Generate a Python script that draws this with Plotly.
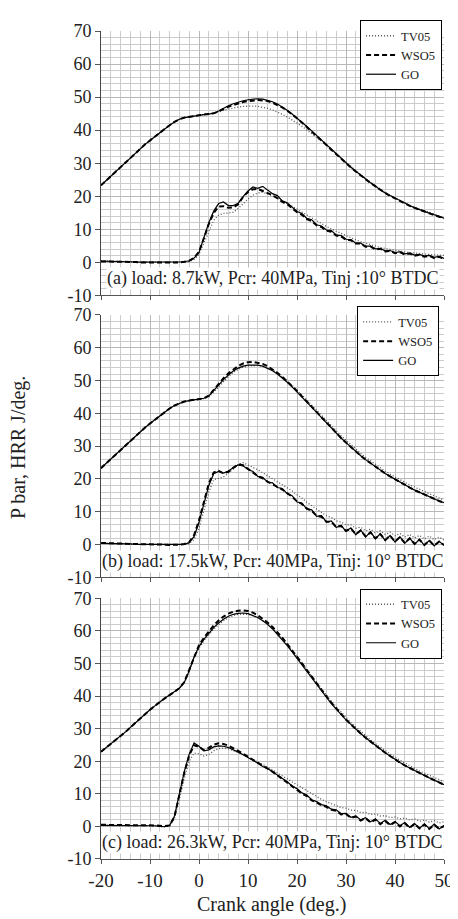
import plotly.graph_objects as go

# ---------------- data ----------------
crank_angle = list(range(-20, 51))  # deg, step 1

# Panel (a) load 8.7 kW
p_go_a = [23.3, 24.7, 26.1, 27.5, 28.9, 30.3, 31.7, 33.1, 34.4, 35.7, 36.9, 38.1, 39.3, 40.4, 41.5, 42.5, 43.3, 43.8, 44.1, 44.3,
          44.5, 44.7, 44.9, 45.1, 45.8, 46.7, 47.4, 48.0, 48.5, 48.9,
          49.2, 49.4, 49.5, 49.4, 49.1, 48.6, 47.9, 47.0, 46.0, 44.9,
          43.7, 42.4, 41.1, 39.8, 38.4, 37.0, 35.6, 34.2, 32.8, 31.4,
          30.1, 28.8, 27.6, 26.4, 25.2, 24.1, 23.1, 21.9, 21.0, 20.2,
          19.4, 18.6, 17.9, 17.2, 16.5, 15.9, 15.4, 14.9, 14.4, 13.9, 13.4]
p_wso5_a = [23.3, 24.7, 26.1, 27.5, 28.9, 30.3, 31.7, 33.1, 34.4, 35.7, 36.9, 38.1, 39.3, 40.4, 41.5, 42.5, 43.3, 43.8, 44.1, 44.3,
            44.5, 44.7, 44.9, 45.1, 45.7, 46.5, 47.1, 47.6, 48.1, 48.5,
            48.8, 49.0, 49.1, 49.0, 48.8, 48.3, 47.7, 46.9, 45.9, 44.8,
            43.6, 42.3, 41.0, 39.7, 38.3, 36.9, 35.5, 34.1, 32.7, 31.3,
            30.0, 28.7, 27.5, 26.3, 25.1, 24.0, 23.0, 21.9, 21.0, 20.1,
            19.3, 18.5, 17.8, 17.1, 16.5, 15.9, 15.3, 14.8, 14.3, 13.8, 13.3]
p_tv05_a = [23.3, 24.7, 26.1, 27.5, 28.9, 30.3, 31.7, 33.1, 34.4, 35.7, 36.9, 38.1, 39.3, 40.4, 41.5, 42.5, 43.3, 43.8, 44.1, 44.3,
            44.5, 44.7, 44.9, 45.1, 45.5, 46.0, 46.4, 46.8, 47.0, 47.2,
            47.3, 47.3, 47.2, 47.0, 46.6, 46.1, 45.5, 44.8, 44.0, 43.1,
            42.2, 41.2, 40.1, 39.0, 37.9, 36.7, 35.4, 34.1, 32.8, 31.5,
            30.2, 28.9, 27.7, 26.5, 25.3, 24.2, 23.2, 22.0, 21.1, 20.3,
            19.5, 18.7, 18.0, 17.3, 16.7, 16.1, 15.6, 15.1, 14.6, 14.1, 13.6]
hrr_go_a = [0.4, 0.4, 0.4, 0.3, 0.3, 0.2, 0.2, 0.1, 0.1, 0.0, 0.0, 0.0, 0.0, 0.0, 0.0, 0.0, 0.1, 0.2, 0.5, 1.3,
            3.0, 7.5, 12.0, 15.5, 17.8, 18.3, 17.2, 17.2, 17.9, 19.9,
            21.6, 22.8, 22.4, 23.0, 21.8, 20.8, 20.2, 18.6, 18.0, 16.6,
            15.4, 14.8, 13.3, 12.9, 11.4, 11.0, 9.8, 9.6, 8.3, 8.1,
            7.0, 6.9, 5.8, 5.8, 4.9, 4.9, 4.1, 4.2, 3.5, 3.6,
            3.0, 3.2, 2.6, 2.8, 2.2, 2.4, 1.9, 2.1, 1.5, 1.8, 1.2]
hrr_wso5_a = [0.3, 0.3, 0.3, 0.3, 0.2, 0.2, 0.1, 0.1, 0.0, 0.0, 0.0, -0.1, -0.1, -0.1, -0.1, 0.0, 0.0, 0.2, 0.5, 1.4,
              3.2, 7.3, 11.6, 14.9, 16.9, 17.0, 16.5, 16.6, 17.6, 19.8,
              21.3, 22.1, 22.2, 21.6, 21.0, 20.3, 19.4, 18.3, 17.6, 16.3,
              15.2, 14.4, 13.1, 12.5, 11.2, 10.7, 9.6, 9.3, 8.1, 7.9,
              6.8, 6.7, 5.7, 5.7, 4.7, 4.8, 3.9, 4.1, 3.3, 3.5,
              2.8, 3.1, 2.4, 2.7, 2.0, 2.3, 1.7, 2.0, 1.3, 1.7, 1.0]
hrr_tv05_a = [0.4, 0.4, 0.3, 0.3, 0.3, 0.2, 0.2, 0.1, 0.1, 0.0, 0.0, 0.0, 0.0, 0.0, 0.0, 0.0, 0.0, 0.1, 0.3, 0.9,
              2.4, 5.8, 9.6, 12.7, 14.3, 14.8, 14.9, 15.2, 16.3, 17.8,
              19.2, 20.3, 21.0, 21.2, 20.8, 20.2, 19.5, 18.7, 17.9, 17.0,
              16.1, 15.2, 14.3, 13.4, 12.5, 11.7, 10.9, 10.1, 9.4, 8.7,
              8.0, 7.4, 6.8, 6.3, 5.8, 5.3, 4.9, 4.5, 4.2, 3.9,
              3.6, 3.4, 3.2, 3.0, 2.8, 2.6, 2.5, 2.4, 2.3, 2.2, 2.1]

# Panel (b) load 17.5 kW
p_go_b = [23.3, 24.7, 26.1, 27.5, 28.9, 30.3, 31.7, 33.1, 34.4, 35.7, 36.9, 38.1, 39.3, 40.4, 41.5, 42.4, 43.1, 43.6, 43.9, 44.1,
          44.3, 44.6, 45.3, 47.0, 48.7, 50.3, 51.7, 52.9, 53.8, 54.4,
          54.7, 54.8, 54.7, 54.4, 53.8, 53.0, 52.0, 50.8, 49.5, 48.1,
          46.6, 45.1, 43.5, 41.9, 40.3, 38.7, 37.1, 35.5, 34.0, 32.5,
          31.1, 29.7, 28.4, 27.1, 25.9, 24.8, 23.7, 22.7, 21.7, 20.8,
          19.9, 19.0, 18.2, 17.4, 16.6, 15.9, 15.2, 14.5, 13.9, 13.3, 12.8]
p_wso5_b = [23.3, 24.7, 26.1, 27.5, 28.9, 30.3, 31.7, 33.1, 34.4, 35.7, 36.9, 38.1, 39.3, 40.4, 41.5, 42.4, 43.1, 43.6, 43.9, 44.1,
            44.3, 44.6, 45.4, 47.2, 49.0, 50.7, 52.2, 53.5, 54.5, 55.2,
            55.6, 55.7, 55.5, 55.1, 54.4, 53.5, 52.4, 51.2, 49.8, 48.3,
            46.8, 45.2, 43.6, 42.0, 40.3, 38.7, 37.1, 35.5, 34.0, 32.5,
            31.1, 29.7, 28.4, 27.1, 25.9, 24.8, 23.7, 22.7, 21.7, 20.8,
            19.9, 19.0, 18.2, 17.4, 16.6, 15.9, 15.2, 14.5, 13.9, 13.3, 12.8]
p_tv05_b = [23.3, 24.7, 26.1, 27.5, 28.9, 30.3, 31.7, 33.1, 34.4, 35.7, 36.9, 38.1, 39.3, 40.4, 41.5, 42.4, 43.1, 43.6, 43.9, 44.1,
            44.2, 44.5, 45.0, 46.4, 48.0, 49.7, 51.2, 52.5, 53.4, 54.1,
            54.4, 54.6, 54.6, 54.4, 53.9, 53.2, 52.3, 51.2, 49.9, 48.5,
            47.1, 45.6, 44.1, 42.5, 40.9, 39.3, 37.7, 36.2, 34.7, 33.2,
            31.8, 30.4, 29.1, 27.8, 26.6, 25.5, 24.4, 23.4, 22.4, 21.5,
            20.6, 19.8, 19.0, 18.2, 17.5, 16.8, 16.1, 15.4, 14.8, 14.2, 13.6]
hrr_go_b = [0.4, 0.4, 0.3, 0.3, 0.3, 0.2, 0.2, 0.1, 0.1, 0.0, 0.0, 0.0, 0.0, -0.1, -0.1, -0.1, 0.0, 0.1, 0.6, 2.5,
            6.8, 12.3, 18.0, 21.6, 22.3, 21.8, 22.4, 23.5, 24.3, 24.0,
            22.9, 22.3, 20.8, 20.5, 19.0, 18.8, 17.4, 17.1, 15.5, 14.9,
            13.0, 12.7, 10.8, 10.6, 8.6, 8.8, 6.9, 7.2, 5.2, 5.9,
            4.0, 5.1, 3.0, 4.5, 2.3, 3.9, 1.8, 3.3, 1.2, 2.8,
            0.8, 2.4, 0.4, 2.0, 0.1, 1.6, -0.2, 1.3, -0.4, 1.0, -0.2]
hrr_wso5_b = [0.5, 0.5, 0.4, 0.4, 0.3, 0.3, 0.2, 0.2, 0.1, 0.1, 0.0, 0.0, 0.0, 0.0, -0.1, -0.1, 0.0, 0.2, 0.8, 2.9,
              7.4, 13.0, 18.6, 22.0, 22.5, 21.7, 22.2, 23.4, 24.5, 24.2,
              23.0, 22.0, 20.9, 20.2, 19.2, 18.5, 17.6, 16.8, 15.7, 14.6,
              13.2, 12.4, 11.0, 10.3, 8.8, 8.5, 7.0, 7.0, 5.4, 5.7,
              4.2, 4.9, 3.2, 4.3, 2.5, 3.7, 1.9, 3.2, 1.4, 2.7,
              0.9, 2.3, 0.5, 1.9, 0.2, 1.5, -0.1, 1.2, -0.3, 0.9, -0.1]
hrr_tv05_b = [0.4, 0.4, 0.3, 0.3, 0.3, 0.2, 0.2, 0.1, 0.1, 0.0, 0.0, 0.0, 0.0, 0.0, 0.0, 0.0, 0.0, 0.0, 0.3, 1.6,
              5.0, 10.2, 16.0, 19.8, 20.3, 20.6, 21.8, 23.2, 24.4, 25.0,
              24.3, 23.6, 22.8, 21.9, 21.0, 20.2, 19.3, 18.4, 17.5, 16.4,
              15.2, 14.2, 12.9, 11.9, 10.7, 9.9, 8.8, 8.3, 7.3, 6.9,
              6.0, 6.0, 5.0, 5.3, 4.2, 4.7, 3.6, 4.2, 3.1, 3.8,
              2.7, 3.4, 2.3, 3.1, 2.0, 2.8, 1.7, 2.6, 1.5, 2.3, 1.4]

# Panel (c) load 26.3 kW
p_go_c = [22.9, 24.1, 25.3, 26.5, 27.7, 29.0, 30.4, 31.8, 33.1, 34.5, 35.8, 37.0, 38.2, 39.3, 40.3, 41.3, 42.4, 44.2, 47.8, 52.0,
          55.2, 57.4, 59.3, 61.0, 62.4, 63.6, 64.5, 65.1, 65.4, 65.5,
          65.3, 64.8, 64.1, 63.1, 62.0, 60.6, 59.0, 57.3, 55.5, 53.6,
          51.6, 49.6, 47.6, 45.5, 43.5, 41.5, 39.6, 37.7, 36.0, 34.3,
          32.7, 31.3, 29.8, 28.5, 27.2, 26.0, 24.8, 23.7, 22.6, 21.6,
          20.5, 19.6, 18.7, 17.9, 17.1, 16.3, 15.6, 14.9, 14.2, 13.5, 12.8]
p_wso5_c = [22.9, 24.1, 25.3, 26.5, 27.7, 29.0, 30.4, 31.8, 33.1, 34.5, 35.8, 37.0, 38.2, 39.3, 40.3, 41.3, 42.4, 44.3, 48.0, 52.3,
            55.6, 57.9, 59.9, 61.7, 63.2, 64.4, 65.3, 65.9, 66.2, 66.3,
            66.1, 65.6, 64.8, 63.8, 62.6, 61.2, 59.6, 57.9, 56.0, 54.1,
            52.1, 50.1, 48.0, 45.9, 43.9, 41.9, 39.9, 38.0, 36.2, 34.4,
            32.8, 31.3, 29.8, 28.5, 27.2, 26.0, 24.8, 23.7, 22.6, 21.6,
            20.5, 19.6, 18.7, 17.9, 17.1, 16.3, 15.6, 14.9, 14.2, 13.5, 12.8]
p_tv05_c = [22.9, 24.1, 25.3, 26.5, 27.7, 29.0, 30.4, 31.8, 33.1, 34.5, 35.8, 37.0, 38.2, 39.3, 40.3, 41.3, 42.4, 44.1, 47.5, 51.6,
            54.8, 57.0, 58.8, 60.5, 61.9, 63.1, 64.0, 64.7, 65.1, 65.2,
            65.1, 64.7, 64.1, 63.2, 62.1, 60.8, 59.3, 57.7, 55.9, 54.1,
            52.2, 50.2, 48.2, 46.2, 44.2, 42.2, 40.3, 38.4, 36.7, 35.0,
            33.4, 31.9, 30.5, 29.1, 27.8, 26.6, 25.4, 24.3, 23.2, 22.2,
            21.2, 20.3, 19.4, 18.6, 17.8, 17.0, 16.3, 15.6, 14.9, 14.3, 13.7]
hrr_go_c = [0.3, 0.3, 0.3, 0.3, 0.3, 0.3, 0.3, 0.3, 0.3, 0.3, 0.2, 0.2, 0.0, -0.1, 0.3, 3.2, 10.0, 16.8, 22.2, 25.6,
            24.6, 23.2, 23.5, 24.4, 24.7, 24.6, 24.2, 23.6, 22.8, 22.0,
            21.2, 20.2, 19.4, 18.4, 17.8, 16.8, 15.8, 14.6, 13.7, 12.4,
            11.6, 10.3, 9.6, 8.2, 7.6, 6.7, 6.3, 5.3, 5.1, 3.9,
            4.0, 2.8, 3.2, 2.0, 2.7, 1.4, 2.3, 0.9, 1.9, 0.6,
            1.5, 0.2, 1.2, -0.3, 0.9, -0.6, 0.8, -0.7, 0.7, -0.8, 0.3]
hrr_wso5_c = [0.5, 0.5, 0.5, 0.5, 0.5, 0.5, 0.5, 0.5, 0.5, 0.4, 0.4, 0.3, 0.2, 0.1, 0.3, 3.0, 9.8, 16.5, 21.8, 24.9,
              24.4, 23.4, 24.1, 25.1, 25.5, 25.3, 24.8, 24.1, 23.2, 22.3,
              21.4, 20.4, 19.5, 18.5, 17.8, 16.8, 15.7, 14.6, 13.5, 12.3,
              11.4, 10.1, 9.3, 8.0, 7.3, 6.5, 6.0, 5.1, 4.8, 3.7,
              3.8, 2.6, 3.0, 1.8, 2.5, 1.2, 2.1, 0.7, 1.7, 0.4,
              1.3, 0.0, 1.0, -0.4, 0.8, -0.6, 0.6, -0.8, 0.5, -0.7, 0.1]
hrr_tv05_c = [0.3, 0.3, 0.3, 0.3, 0.3, 0.3, 0.3, 0.3, 0.3, 0.3, 0.2, 0.2, 0.0, -0.1, 0.1, 2.4, 8.5, 14.8, 20.0, 22.5,
              22.3, 21.6, 22.0, 23.2, 23.9, 24.0, 23.8, 23.3, 22.7, 22.0,
              21.3, 20.6, 19.8, 19.0, 18.2, 17.3, 16.4, 15.4, 14.5, 13.6,
              12.6, 11.7, 10.8, 9.9, 9.0, 8.3, 7.6, 6.9, 6.4, 5.8,
              5.6, 5.0, 4.9, 4.3, 4.3, 3.7, 3.8, 3.2, 3.3, 2.7,
              2.9, 2.3, 2.6, 2.0, 2.3, 1.6, 2.0, 1.3, 1.8, 1.1, 1.4]

series_names = ["TV05", "WSO5", "GO"]
panel_labels = ["(a) load: 8.7kW, Pcr: 40MPa, Tinj :10\u00b0 BTDC",
                "(b) load: 17.5kW, Pcr: 40MPa, Tinj: 10\u00b0 BTDC",
                "(c) load: 26.3kW, Pcr: 40MPa, Tinj: 10\u00b0 BTDC"]
x_ticks = [-20, -10, 0, 10, 20, 30, 40, 50]
y_ticks = [-10, 0, 10, 20, 30, 40, 50, 60, 70]

panels = [
    {"p": [p_tv05_a, p_wso5_a, p_go_a], "h": [hrr_tv05_a, hrr_wso5_a, hrr_go_a]},
    {"p": [p_tv05_b, p_wso5_b, p_go_b], "h": [hrr_tv05_b, hrr_wso5_b, hrr_go_b]},
    {"p": [p_tv05_c, p_wso5_c, p_go_c], "h": [hrr_tv05_c, hrr_wso5_c, hrr_go_c]},
]

# ---------------- styling ----------------
FONT = "Liberation Serif, Times New Roman, serif"
styles = {
    "TV05": dict(color="#555555", width=1.3, dash="1px,2px"),
    "WSO5": dict(color="#000000", width=2.0, dash="5px,3px"),
    "GO": dict(color="#000000", width=1.2, dash="solid"),
}

fig = go.Figure()
W, H = 458, 919
ml, mr, mt, mb = 93, 13, 15, 68
plot_h = H - mt - mb
panel_px = [(15, 282), (301.7, 566.7), (587.8, 851)]
# legend anchor: right edge x, nominal top y (pixels; box renders ~13 px lower)
legend_px = [(443, 4), (440, 293), (443, 578)]

def py2paper(py):
    return (H - mb - py) / plot_h

def px2paper(px):
    return (px - ml) / (W - ml - mr)

for i, pan in enumerate(panels):
    xa = "x" if i == 0 else f"x{i+1}"
    ya = "y" if i == 0 else f"y{i+1}"
    lg = "legend" if i == 0 else f"legend{i+1}"
    for name, yv in zip(series_names, pan["p"]):
        fig.add_trace(go.Scatter(x=crank_angle, y=yv, name=name, mode="lines",
                                 line=styles[name], xaxis=xa, yaxis=ya,
                                 legend=lg, showlegend=True))
    for name, yv in zip(series_names, pan["h"]):
        fig.add_trace(go.Scatter(x=crank_angle, y=yv, name=name, mode="lines",
                                 line=styles[name], xaxis=xa, yaxis=ya,
                                 legend=lg, showlegend=False))

layout = dict(
    width=W, height=H,
    margin=dict(l=ml, r=mr, t=mt, b=mb),
    paper_bgcolor="white", plot_bgcolor="white",
    font=dict(family=FONT, color="#222222"),
)

for i in range(3):
    xk = "xaxis" if i == 0 else f"xaxis{i+1}"
    yk = "yaxis" if i == 0 else f"yaxis{i+1}"
    top, bot = panel_px[i]
    layout[xk] = dict(
        range=[-20, 50], domain=[0, 1], anchor="y" if i == 0 else f"y{i+1}",
        tickvals=x_ticks, ticktext=[str(v) for v in x_ticks],
        showticklabels=(i == 2), ticks="outside", ticklen=4, tickcolor="#555",
        showline=True, linecolor="#555", linewidth=1,
        showgrid=True, gridcolor="#b8b8b8", gridwidth=1,
        minor=dict(dtick=2, tick0=0, showgrid=True, gridcolor="#cccccc", gridwidth=1, ticks=""),
        zeroline=False, tickfont=dict(family=FONT, size=19, color="#222"),
        fixedrange=True,
    )
    layout[yk] = dict(
        range=[-10, 70], domain=[py2paper(bot), py2paper(top)],
        anchor="x" if i == 0 else f"x{i+1}",
        tickvals=y_ticks, ticktext=[str(v) for v in y_ticks],
        ticks="outside", ticklen=5, tickcolor="#555",
        showline=True, linecolor="#444", linewidth=1,
        showgrid=True, gridcolor="#b8b8b8", gridwidth=1,
        minor=dict(dtick=2, tick0=0, showgrid=True, gridcolor="#cccccc", gridwidth=1, ticks=""),
        zeroline=False, tickfont=dict(family=FONT, size=18, color="#222"),
        fixedrange=True,
    )
    lk = "legend" if i == 0 else f"legend{i+1}"
    lx, ly = legend_px[i]
    layout[lk] = dict(
        x=px2paper(lx), y=py2paper(ly), xanchor="right", yanchor="top",
        xref="paper", yref="paper",
        bgcolor="white", bordercolor="#000", borderwidth=1,
        font=dict(family=FONT, size=12.5, color="#222"),
        itemwidth=30, tracegroupgap=0, traceorder="normal",
    )

annotations = []
for i, label in enumerate(panel_labels):
    xr = "x" if i == 0 else f"x{i+1}"
    yr = "y" if i == 0 else f"y{i+1}"
    annotations.append(dict(x=15, y=-5, xref=xr, yref=yr, text=label, showarrow=False,
                            font=dict(family=FONT, size=18, color="#222"),
                            bgcolor="white", borderpad=0, xanchor="center", yanchor="middle"))
annotations.append(dict(x=px2paper(9), y=py2paper(436), xref="paper", yref="paper",
                        text="P bar, HRR J/deg.", textangle=-90, showarrow=False,
                        font=dict(family=FONT, size=20, color="#222"),
                        xanchor="center", yanchor="middle"))
annotations.append(dict(x=px2paper(268), y=py2paper(897), xref="paper", yref="paper",
                        text="Crank angle (deg.)", showarrow=False,
                        font=dict(family=FONT, size=20, color="#222"),
                        xanchor="center", yanchor="middle"))
layout["annotations"] = annotations

fig.update_layout(**layout)
fig.write_html("out.html")
